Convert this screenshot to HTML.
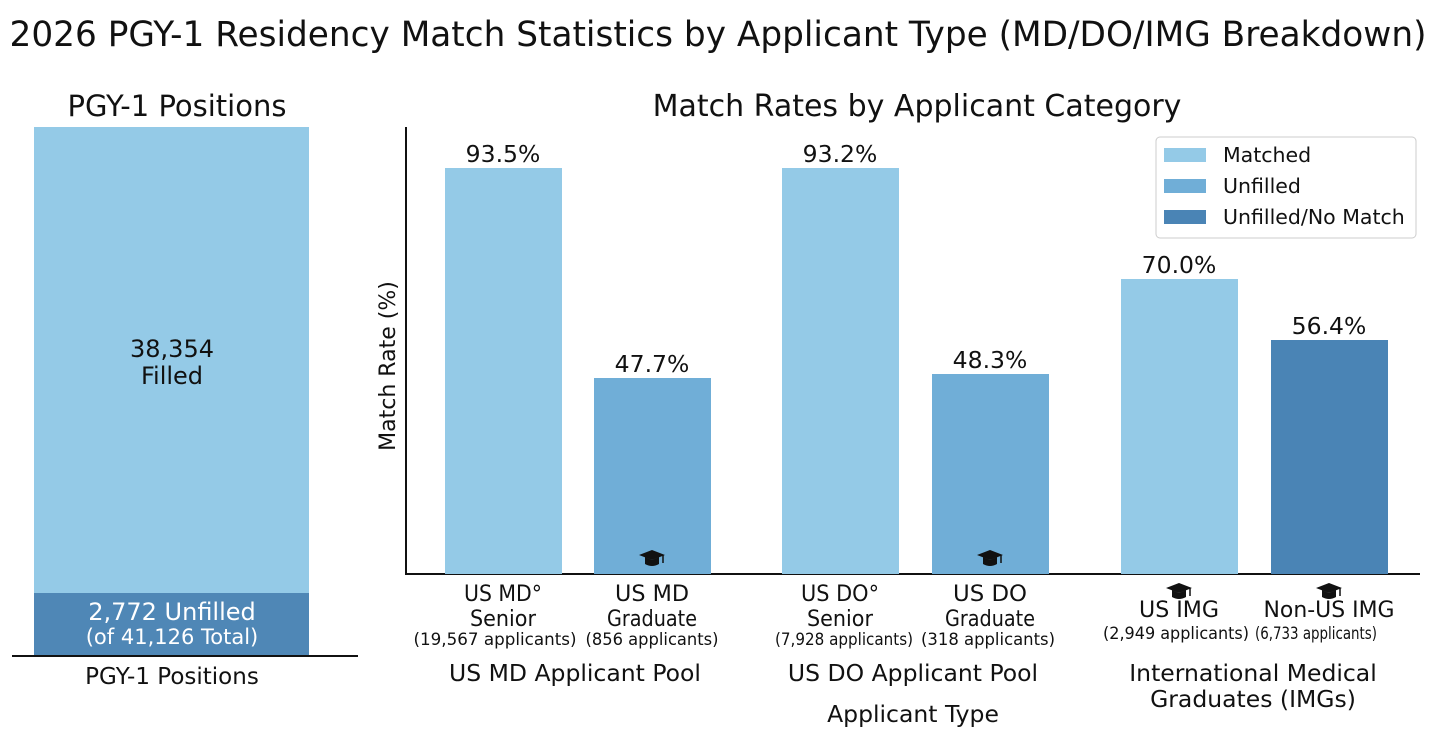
<!DOCTYPE html>
<html><head><meta charset="utf-8"><style>
body{margin:0;background:#fff;}
svg text{font-family:"DejaVu Sans","Liberation Sans",sans-serif;fill:#111;}
</style></head><body>
<svg width="1434" height="736" viewBox="0 0 1434 736" xmlns="http://www.w3.org/2000/svg">
<defs>
<g id="cap"><polygon points="0,-7 13,-2 0,3 -13,-2" fill="#111"/><path d="M-7,0 L-7,7 Q0,11 7,7 L7,0 L0,3 Z" fill="#111"/><line x1="11" y1="-2" x2="11" y2="6" stroke="#111" stroke-width="1.5"/></g>
</defs>
<text x="718" y="46" font-size="34.3" text-anchor="middle">2026 PGY-1 Residency Match Statistics by Applicant Type (MD/DO/IMG Breakdown)</text>
<text x="177" y="116" font-size="29" text-anchor="middle">PGY-1 Positions</text>
<rect x="34" y="127" width="275" height="466" fill="#94cae7"/>
<rect x="34" y="593" width="275" height="62" fill="#4f87b6"/>
<line x1="12" y1="656" x2="358" y2="656" stroke="#111" stroke-width="2"/>
<text x="172" y="357" font-size="24" text-anchor="middle">38,354</text>
<text x="172" y="384" font-size="24" text-anchor="middle">Filled</text>
<text x="172" y="620" font-size="24" text-anchor="middle" style="fill:#fff">2,772 Unfilled</text>
<text x="172" y="644" font-size="21" text-anchor="middle" style="fill:#fff">(of 41,126 Total)</text>
<text x="172" y="684" font-size="23" text-anchor="middle">PGY-1 Positions</text>

<text x="917" y="116" font-size="30" text-anchor="middle">Match Rates by Applicant Category</text>
<line x1="406" y1="127" x2="406" y2="575" stroke="#111" stroke-width="2"/>
<line x1="405" y1="574" x2="1420" y2="574" stroke="#111" stroke-width="2"/>
<text transform="translate(395,366) rotate(-90)" font-size="22" text-anchor="middle">Match Rate (%)</text>

<rect x="445" y="168" width="117" height="406" fill="#94cae7"/>
<rect x="594" y="378" width="117" height="196" fill="#70aed7"/>
<rect x="782" y="168" width="117" height="406" fill="#94cae7"/>
<rect x="932" y="374" width="117" height="200" fill="#70aed7"/>
<rect x="1121" y="279" width="117" height="295" fill="#94cae7"/>
<rect x="1271" y="340" width="117" height="234" fill="#4a84b5"/>

<g font-size="23.5" text-anchor="middle">
<text x="503" y="162">93.5%</text>
<text x="652" y="372">47.7%</text>
<text x="840" y="162">93.2%</text>
<text x="990" y="368">48.3%</text>
<text x="1179" y="273">70.0%</text>
<text x="1329" y="334">56.4%</text>
</g>
<use href="#cap" x="652" y="557"/><use href="#cap" x="990" y="557"/>
<use href="#cap" x="1179" y="590"/><use href="#cap" x="1329" y="590"/>

<rect x="1156" y="137" width="260" height="101" rx="4" fill="#fff" stroke="#ccc"/>
<rect x="1164" y="148" width="42" height="14" fill="#94cae7"/>
<rect x="1164" y="179" width="42" height="14" fill="#70aed7"/>
<rect x="1164" y="210" width="42" height="14" fill="#4a84b5"/>
<g font-size="20.5"><text x="1223" y="162">Matched</text><text x="1223" y="193">Unfilled</text><text x="1223" y="224">Unfilled/No Match</text></g>

<g font-size="22" text-anchor="middle">
<text x="503" y="601" textLength="78" lengthAdjust="spacingAndGlyphs">US MD°</text><text x="503" y="626" textLength="66" lengthAdjust="spacingAndGlyphs">Senior</text>
<text x="652" y="601" textLength="74" lengthAdjust="spacingAndGlyphs">US MD</text><text x="652" y="626" textLength="90" lengthAdjust="spacingAndGlyphs">Graduate</text>
<text x="840" y="601" textLength="78" lengthAdjust="spacingAndGlyphs">US DO°</text><text x="840" y="626" textLength="66" lengthAdjust="spacingAndGlyphs">Senior</text>
<text x="990" y="601" textLength="74" lengthAdjust="spacingAndGlyphs">US DO</text><text x="990" y="626" textLength="90" lengthAdjust="spacingAndGlyphs">Graduate</text>
<text x="1179" y="617" textLength="80" lengthAdjust="spacingAndGlyphs">US IMG</text>
<text x="1329" y="617" textLength="131" lengthAdjust="spacingAndGlyphs">Non-US IMG</text>
</g>
<g font-size="17" text-anchor="middle">
<text x="495" y="645" textLength="163" lengthAdjust="spacingAndGlyphs">(19,567 applicants)</text>
<text x="652" y="645" textLength="133" lengthAdjust="spacingAndGlyphs">(856 applicants)</text>
<text x="844" y="645" textLength="138" lengthAdjust="spacingAndGlyphs">(7,928 applicants)</text>
<text x="988" y="645" textLength="134" lengthAdjust="spacingAndGlyphs">(318 applicants)</text>
<text x="1176" y="639" textLength="146" lengthAdjust="spacingAndGlyphs">(2,949 applicants)</text>
<text x="1316" y="639" textLength="122" lengthAdjust="spacingAndGlyphs">(6,733 applicants)</text>
</g>
<g font-size="23.5" text-anchor="middle">
<text x="575" y="681">US MD Applicant Pool</text>
<text x="913" y="681">US DO Applicant Pool</text>
<text x="1253" y="681">International Medical</text>
<text x="1253" y="707">Graduates (IMGs)</text>
<text x="913" y="722">Applicant Type</text>
</g>
</svg>
</body></html>
